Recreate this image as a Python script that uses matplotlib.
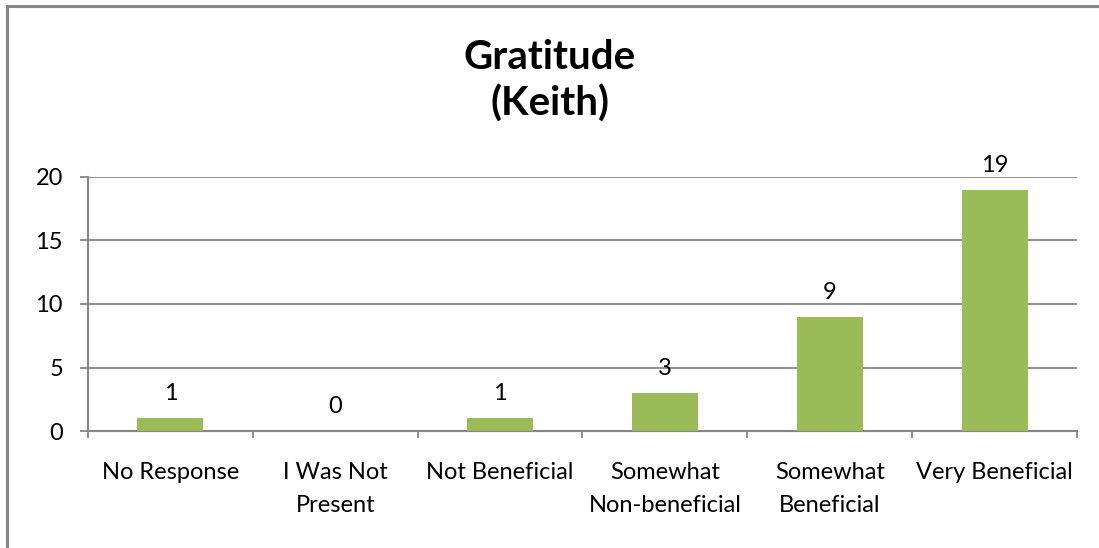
import matplotlib.pyplot as plt
from matplotlib.lines import Line2D

# Дані діаграми
categories = ['No Response', 'I Was Not\nPresent', 'Not Beneficial',
              'Somewhat\nNon-beneficial', 'Somewhat\nBeneficial', 'Very Beneficial']
counts = [1, 0, 1, 3, 9, 19]
y_ticks = [0, 5, 10, 15, 20]

plt.rcParams['font.family'] = ['Lato', 'DejaVu Sans']
grey = '#868686'

fig = plt.figure(figsize=(10.99, 5.48), dpi=100)
ax = fig.add_axes([88 / 1099, 1 - 431 / 548, (1077 - 88) / 1099, (431 - 177) / 548])

x = list(range(len(categories)))
ax.bar(x, counts, width=0.4, color='#9BBB59', zorder=3)
for xi, v in zip(x, counts):
    ax.annotate(str(v), (xi, v), xytext=(0, 13), textcoords='offset points',
                ha='center', va='baseline', fontsize=17)

ax.set_xlim(-0.5, len(categories) - 0.5)
ax.set_ylim(0, 20)
ax.set_yticks(y_ticks)
ax.set_yticklabels([str(t) for t in y_ticks], fontsize=17)
ax.yaxis.grid(True, color=grey, linewidth=1.3, zorder=0)
ax.tick_params(axis='y', length=6, width=1.3, color=grey, pad=12)

# межі категорій - великі поділки, підписи - на малих
ax.set_xticks([i - 0.5 for i in range(len(categories) + 1)], minor=False)
ax.set_xticklabels([''] * (len(categories) + 1))
ax.set_xticks(x, minor=True)
ax.set_xticklabels(categories, minor=True, fontsize=17, linespacing=1.75)
ax.tick_params(axis='x', which='major', length=5, width=1.3, color=grey, direction='out')
ax.tick_params(axis='x', which='minor', length=0, pad=22)

for s in ['top', 'right']:
    ax.spines[s].set_visible(False)
for s in ['left', 'bottom']:
    ax.spines[s].set_color(grey)
    ax.spines[s].set_linewidth(1.5)

fig.text(0.5, 1 - 81 / 548, 'Gratitude\n(Keith)', ha='center', va='center',
         fontsize=29, fontweight='bold', linespacing=1.27)

# Рамка діаграми
fig.add_artist(Line2D([6.5 / 1099, 1], [1 - 6 / 548, 1 - 6 / 548], color=grey, linewidth=2.2))
fig.add_artist(Line2D([6.5 / 1099, 6.5 / 1099], [0, 1 - 6 / 548], color=grey, linewidth=2.2))

plt.savefig('out.png', dpi=100)
